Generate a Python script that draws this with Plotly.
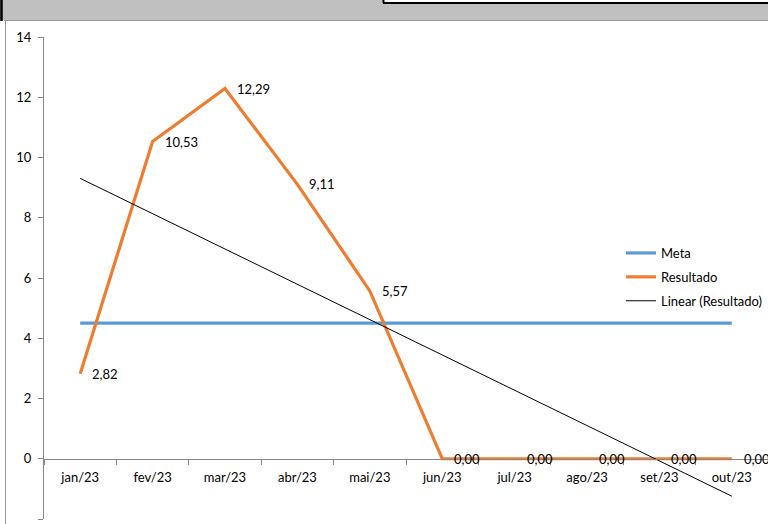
import numpy as np
import plotly.graph_objects as go

categories = ["jan/23", "fev/23", "mar/23", "abr/23", "mai/23",
              "jun/23", "jul/23", "ago/23", "set/23", "out/23"]
meta = [4.5] * 10
resultado = [2.82, 10.53, 12.29, 9.11, 5.57, 0.00, 0.00, 0.00, 0.00, 0.00]
y_ticks = [-2, 0, 2, 4, 6, 8, 10, 12, 14]

W, H = 768, 524
L, R, T, B = 44, 0, 37, 5
pw, ph = W - L - R, H - T - B


def px(x):
    return (x - L) / pw


def py(y):
    return (H - B - y) / ph


# linear trend from data
xi = np.arange(1, len(resultado) + 1)
slope, intercept = np.polyfit(xi, resultado, 1)
trend = slope * xi + intercept

font = "Lato, 'Open Sans', sans-serif"
fs = 13

fig = go.Figure()
fig.add_trace(go.Scatter(x=categories, y=meta, mode="lines", name="Meta", legendgroup="a",
                         line=dict(color="#5B9BD5", width=3.2)))
fig.add_trace(go.Scatter(x=categories, y=resultado, mode="lines", name="Resultado", legendgroup="b",
                         line=dict(color="#ED7D31", width=3.2)))
fig.add_trace(go.Scatter(x=categories, y=trend, mode="lines", name="Linear (Resultado)", legendgroup="c",
                         line=dict(color="#000000", width=1)))

for c, v in zip(categories, resultado):
    fig.add_annotation(x=c, y=v, text=f"{v:.2f}".replace(".", ","),
                       showarrow=False, xanchor="left", yanchor="middle",
                       xshift=10, font=dict(family=font, size=fs, color="#000"))

shapes = [
    dict(type="rect", xref="paper", yref="paper", x0=px(0), x1=px(W), y0=py(20), y1=py(0),
         fillcolor="#C0C0C0", line=dict(width=0), layer="above"),
    dict(type="rect", xref="paper", yref="paper", x0=px(383), x1=px(W), y0=py(3), y1=py(-2),
         fillcolor="#FFFFFF", line=dict(width=0), layer="above"),
    dict(type="line", xref="paper", yref="paper", x0=px(383), x1=px(W), y0=py(3), y1=py(3),
         line=dict(color="#000", width=2), layer="above"),
    dict(type="line", xref="paper", yref="paper", x0=px(383.5), x1=px(383.5), y0=py(-2), y1=py(3),
         line=dict(color="#000", width=2), layer="above"),
    dict(type="line", xref="paper", yref="paper", x0=px(1.5), x1=px(1.5), y0=py(0), y1=py(21),
         line=dict(color="#000", width=2.5), layer="above"),
    dict(type="line", xref="paper", yref="paper", x0=px(4), x1=px(W), y0=py(20.5), y1=py(20.5),
         line=dict(color="#9A9A9A", width=1), layer="above"),
    dict(type="line", xref="paper", yref="paper", x0=px(5.5), x1=px(5.5), y0=py(20.5), y1=py(H + 2),
         line=dict(color="#9A9A9A", width=1), layer="above"),
]

fig.update_layout(
    width=W, height=H,
    margin=dict(l=L, r=R, t=T, b=B),
    paper_bgcolor="#FFFFFF", plot_bgcolor="#FFFFFF",
    font=dict(family=font, size=fs, color="#000"),
    showlegend=True,
    legend=dict(x=px(621), y=py(238), xanchor="left", yanchor="top",
                bgcolor="rgba(0,0,0,0)", font=dict(family=font, size=fs, color="#000"),
                tracegroupgap=4, itemwidth=30),
    shapes=shapes,
    xaxis=dict(type="category", categoryorder="array", categoryarray=categories,
               range=[-0.5, 9.5], anchor="free", position=py(459),
               showline=True, linecolor="#888888", linewidth=1,
               ticks="outside", tickson="boundaries", ticklen=5, tickcolor="#888888",
               ticklabelstandoff=6,
               showgrid=False, zeroline=False, tickfont=dict(family=font, size=fs)),
    yaxis=dict(range=[-2, 14], tickvals=y_ticks, ticktext=[str(t) for t in y_ticks],
               showline=True, linecolor="#888888", linewidth=1,
               ticks="outside", ticklen=5, tickcolor="#888888",
               ticklabelstandoff=4,
               showgrid=False, zeroline=False, tickfont=dict(family=font, size=fs)),
)

fig.write_html("out.html")
